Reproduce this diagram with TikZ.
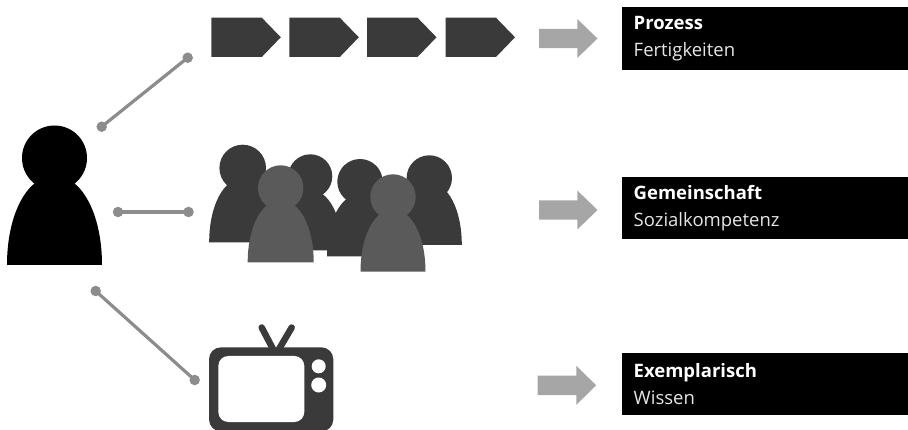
\documentclass[tikz,border=0pt]{standalone}
\usepackage{fontspec}
\setmainfont{Open Sans}
\definecolor{dark}{HTML}{3A3A3A}
\definecolor{mid}{HTML}{5A5A5A}
\definecolor{link}{HTML}{8C8C8C}
\definecolor{pointer}{HTML}{A6A6A6}
\definecolor{subtext}{HTML}{E6E6E6}
\tikzset{
  dot/.style={circle,fill=link,draw=none,minimum size=10.5pt,inner sep=0pt},
  linkline/.style={draw=link,line width=3.2pt},
  label box/.style={fill=black,text=white,anchor=north west,minimum width=286.5pt,text width=262.5pt,inner xsep=12pt,inner ysep=0pt,align=left,font=\fontsize{18.5}{27}\selectfont},
  chevronshape/.style={fill=dark,draw=none},
  pointerfill/.style={fill=pointer,draw=none},
}
\newcommand{\lowered}[1]{\raisebox{-1pt}{#1}}
% cx, head cy, head r, bottom, half width, colour
\newcommand{\figureperson}[6]{%
  \pgfmathsetmacro{\bh}{2.75*#3}%
  \pgfmathsetmacro{\bl}{#1-#5}%
  \pgfmathsetmacro{\br}{#1+#5}%
  \pgfmathsetmacro{\ctop}{#4-\bh}%
  \pgfmathsetmacro{\cmid}{#4-0.58*\bh}%
  \pgfmathsetmacro{\cl}{#1-0.56*#5}%
  \pgfmathsetmacro{\cr}{#1+0.56*#5}%
  \fill[#6] (\bl,#4) .. controls (\bl,\cmid) and (\cl,\ctop) .. (#1,\ctop)
     .. controls (\cr,\ctop) and (\br,\cmid) .. (\br,#4) -- cycle;
  \fill[#6] (#1,#2) circle[radius=#3pt];
}
\newcommand{\stepchevron}[1]{%
  \fill[chevronshape] (#1,17.7) -- ++(50.5,0) -- ++(19,19.6) -- ++(-19,19.7) -- ++(-50.5,0) -- cycle;
}
\newcommand{\fatarrow}[3]{% left x, head x, centre y ; tip = left+58.5
  \pgfmathsetmacro{\tipx}{#1+58.5}%
  \fill[pointerfill] (#1,#3-9.7) -- (#2,#3-9.7) -- (#2,#3-19.5) -- (\tipx,#3) -- (#2,#3+19.5) -- (#2,#3+9.7) -- (#1,#3+9.7) -- cycle;
}
\begin{document}
\begin{tikzpicture}[x=1pt,y=-1pt]
\useasboundingbox (0,0) rectangle (908,430);
\clip (0,0) rectangle (908,430);
% main person
\figureperson{54.5}{158}{32.5}{265}{47.5}{black}
% connectors
\node[dot] (a1) at (101.7,126.7) {};
\node[dot] (a2) at (187.7,57.7) {};
\node[dot] (b1) at (118,212) {};
\node[dot] (b2) at (188.5,212) {};
\node[dot] (c1) at (95.7,291) {};
\node[dot] (c2) at (194.7,380) {};
\draw[linkline] (a1.center) -- (a2.center);
\draw[linkline] (b1.center) -- (b2.center);
\draw[linkline] (c1.center) -- (c2.center);
% process chevrons
\stepchevron{211.3}
\stepchevron{289.3}
\stepchevron{367}
\stepchevron{445.5}
% group
\figureperson{242.7}{168}{23.3}{242.3}{33.5}{dark}
\figureperson{429.3}{178}{22.7}{245}{32.5}{dark}
\figureperson{310.3}{176.3}{22}{250.3}{32}{dark}
\figureperson{360}{181.7}{22.7}{256.3}{33}{dark}
\figureperson{280.7}{188}{22.7}{262.3}{33}{mid}
\figureperson{393}{197}{22.7}{271.7}{32.5}{mid}
% television
\draw[dark,line width=6.5pt,line cap=round] (273.5,350) -- (261.7,327.5);
\draw[dark,line width=6.5pt,line cap=round] (278.5,350) -- (291.7,327.5);
\fill[dark,rounded corners=12pt] (209,347.3) rectangle (333.3,431.5);
\fill[white,rounded corners=10pt] (218.3,356) rectangle (304.3,422);
\fill[white] (318.7,366.3) circle[radius=7pt];
\fill[white] (318.7,385) circle[radius=7.5pt];
% arrows
\fatarrow{539}{577.3}{38.5}
\fatarrow{539}{577.3}{210}
\fatarrow{537.7}{576.3}{385.3}
% labels
\node[label box,minimum height=63pt] (p) at (621.5,7) {\lowered{\textbf{Prozess}}\\\lowered{\textcolor{subtext}{Fertigkeiten}}};
\node[label box,minimum height=62pt] (g) at (621.5,177) {\lowered{\textbf{Gemeinschaft}}\\\lowered{\textcolor{subtext}{Sozialkompetenz}}};
\node[label box,minimum height=62pt] (e) at (621.5,353) {\lowered{\textbf{Exemplarisch}}\\\lowered{\textcolor{subtext}{Wissen}}};
\end{tikzpicture}
\end{document}
